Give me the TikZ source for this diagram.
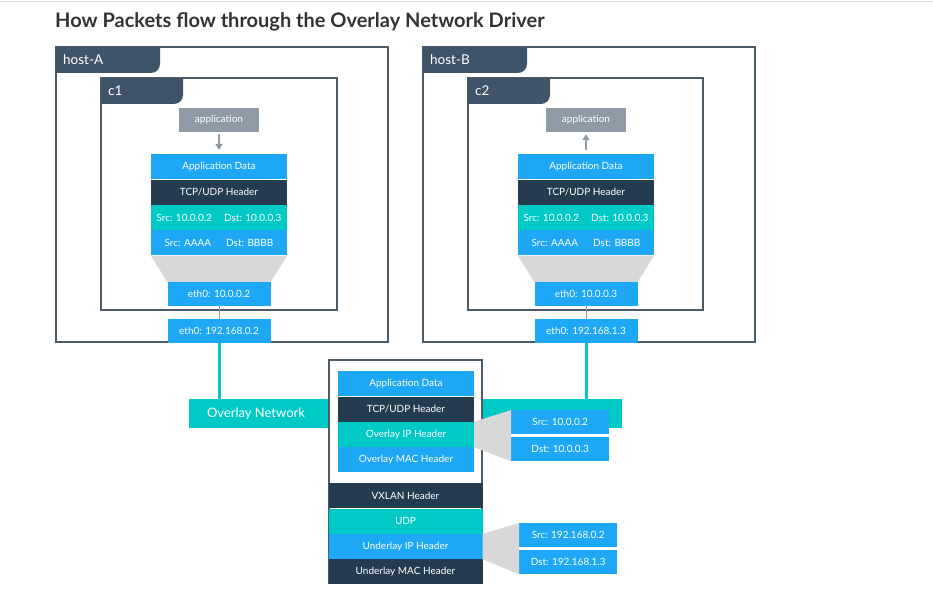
\documentclass[tikz,border=0pt]{standalone}
\usepackage{fontspec}
\setmainfont{Lato}
\usetikzlibrary{positioning,arrows.meta}

\definecolor{pblue}{HTML}{1DA7F5}
\definecolor{navy}{HTML}{253C50}
\definecolor{pteal}{HTML}{00C9C6}
\definecolor{slate}{HTML}{3F5468}
\definecolor{appgray}{HTML}{8E9BA6}
\definecolor{wedge}{HTML}{D8D8D8}
\definecolor{frame}{HTML}{4B5B69}

\tikzset{
  hostline/.style={draw=frame,line width=1.2pt},
  tablabel/.style={text=white,anchor=west,inner sep=0pt,font=\fontsize{13.5}{15}\selectfont},
  cell/.style={fill=pblue,text=white,minimum width=136pt,minimum height=25pt,inner sep=0pt,font=\fontsize{10}{11}\selectfont},
  wide/.style={cell,minimum width=154pt},
  ethbox/.style={cell,minimum width=103pt,minimum height=24pt},
  addrbox/.style={cell,minimum width=98pt,minimum height=24pt},
  appbox/.style={cell,fill=appgray,minimum width=80pt,minimum height=24pt},
  flow/.style={draw=appgray,line width=1.6pt,-{Triangle[length=6pt,width=7pt]}},
  wire/.style={draw=pteal,line width=3pt},
}

\begin{document}
\begin{tikzpicture}[x=1pt,y=-1pt]
\useasboundingbox (0,0) rectangle (933,601);

% title
\draw[gray!25,line width=1pt] (0,2) -- (933,2);
\node[anchor=west,inner sep=0pt,text=black!80,font=\fontsize{20}{23}\selectfont\bfseries] (title) at (55,22) {How Packets flow through the Overlay Network Driver};

% host-A frame and c1
\draw[hostline] (56,47) rectangle (388,342);
\fill[slate] (56,47) -- (160,47) -- (160,64) arc (0:90:9) -- (56,73) -- cycle;
\node[tablabel] (hostA) at (63,60) {host-A};
\draw[hostline] (101,78) rectangle (337,310);
\fill[slate] (101,78) -- (183,78) -- (183,95) arc (0:90:9) -- (101,104) -- cycle;
\node[tablabel] (cA) at (108,91) {c1};

% host-B frame and c2
\draw[hostline] (423,47) rectangle (755,342);
\fill[slate] (423,47) -- (527,47) -- (527,64) arc (0:90:9) -- (423,73) -- cycle;
\node[tablabel] (hostB) at (430,60) {host-B};
\draw[hostline] (468,78) rectangle (703,310);
\fill[slate] (468,78) -- (550,78) -- (550,95) arc (0:90:9) -- (468,104) -- cycle;
\node[tablabel] (cB) at (475,91) {c2};

% overlay network bar
\node[fill=pteal,minimum width=433pt,minimum height=29pt,inner sep=0pt] (overlay) at (405.5,413.5) {};
\node[anchor=west,text=white,inner sep=0pt,font=\fontsize{13}{15}\selectfont] (overlaytxt) at ([xshift=18pt]overlay.west) {Overlay Network};

% c1 stack
\node[appbox] (appA) at (219,120) {application};
\node[cell,anchor=north] (dataA) at (219,154) {Application Data};
\node[cell,fill=navy,below=0pt of dataA] (tcpA) {TCP/UDP Header};
\node[cell,fill=pteal,below=0pt of tcpA] (ipA) {Src: 10.0.0.2\hspace{12pt}Dst: 10.0.0.3};
\node[cell,below=0pt of ipA] (macA) {Src: AAAA\hspace{15pt}Dst: BBBB};
\node[ethbox] (vethA) at (219,294) {eth0: 10.0.0.2};
\fill[wedge] (macA.south west) -- (macA.south east) -- (vethA.north east) -- (vethA.north west) -- cycle;
\node[ethbox] (ethA) at (219,331) {eth0: 192.168.0.2};
\draw[flow,shorten <=2pt,shorten >=4pt] (appA) -- (dataA);
\draw[appgray,line width=0.8pt] (vethA) -- (ethA);
\draw[wire] (ethA.south) -- (ethA.south |- overlay.north);

% c2 stack
\node[appbox] (appB) at (586,120) {application};
\node[cell,anchor=north] (dataB) at (586,154) {Application Data};
\node[cell,fill=navy,below=0pt of dataB] (tcpB) {TCP/UDP Header};
\node[cell,fill=pteal,below=0pt of tcpB] (ipB) {Src: 10.0.0.2\hspace{12pt}Dst: 10.0.0.3};
\node[cell,below=0pt of ipB] (macB) {Src: AAAA\hspace{15pt}Dst: BBBB};
\node[ethbox] (vethB) at (586,294) {eth0: 10.0.0.3};
\fill[wedge] (macB.south west) -- (macB.south east) -- (vethB.north east) -- (vethB.north west) -- cycle;
\node[ethbox] (ethB) at (586,331) {eth0: 192.168.1.3};
\draw[flow,shorten <=4pt,shorten >=2pt] (dataB) -- (appB);
\draw[appgray,line width=0.8pt] (vethB) -- (ethB);
\draw[wire] (ethB.south) -- (ethB.south |- overlay.north);

% encapsulated packet
\draw[hostline,fill=white] (329,360) rectangle (482,583);
\node[cell,anchor=north] (dataC) at (406,371) {Application Data};
\node[cell,fill=navy,below=0pt of dataC] (tcpC) {TCP/UDP Header};
\node[cell,fill=pteal,below=0pt of tcpC] (ovipC) {Overlay IP Header};
\node[cell,below=0pt of ovipC] (ovmacC) {Overlay MAC Header};
\node[wide,fill=navy,anchor=north] (vxlanC) at (405.5,483) {VXLAN Header};
\node[wide,fill=pteal,below=0pt of vxlanC] (udpC) {UDP};
\node[wide,below=0pt of udpC] (ulipC) {Underlay IP Header};
\node[wide,fill=navy,below=0pt of ulipC] (ulmacC) {Underlay MAC Header};

% overlay addresses
\node[addrbox,anchor=north west] (srcO) at (511,410) {Src: 10.0.0.2};
\node[addrbox,anchor=north west] (dstO) at (511,437) {Dst: 10.0.0.3};
\fill[wedge] (ovipC.north east) -- (srcO.north west) -- (dstO.south west) -- (ovipC.south east) -- cycle;

% underlay addresses
\node[addrbox,anchor=north west] (srcU) at (519,523) {Src: 192.168.0.2};
\node[addrbox,anchor=north west] (dstU) at (519,550) {Dst: 192.168.1.3};
\fill[wedge] (ulipC.north east) -- (srcU.north west) -- (dstU.south west) -- (ulipC.south east) -- cycle;

\end{tikzpicture}
\end{document}
